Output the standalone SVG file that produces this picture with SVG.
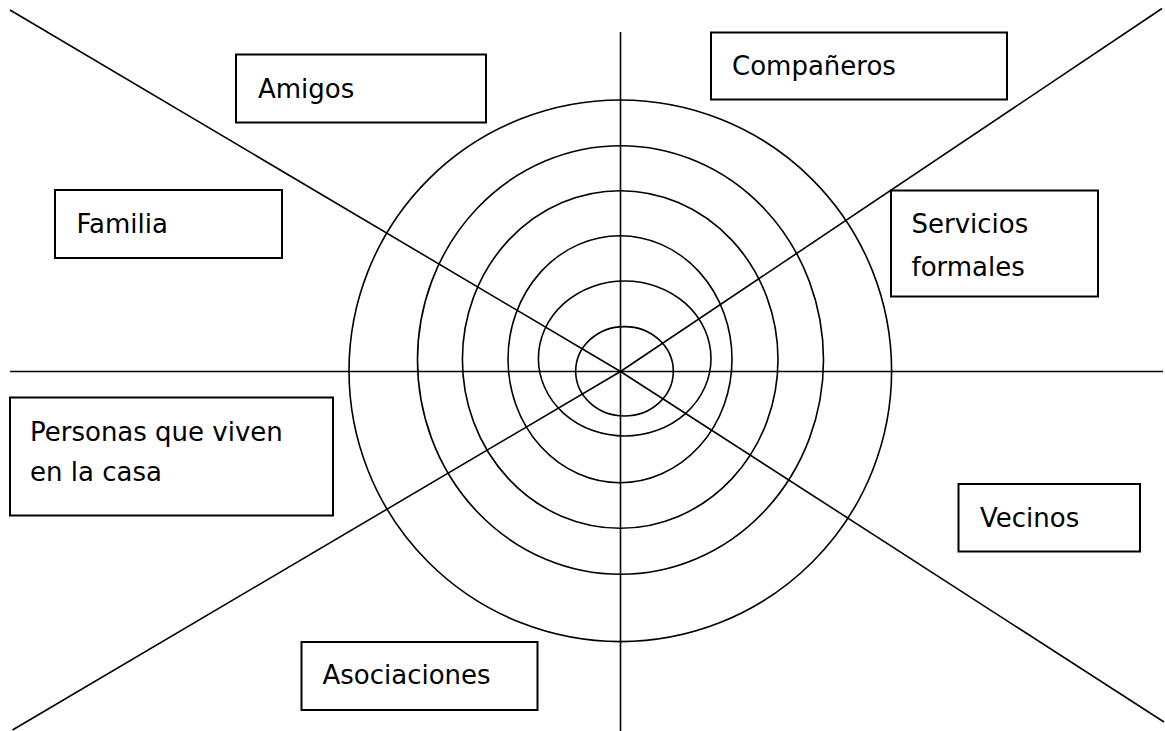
<svg xmlns="http://www.w3.org/2000/svg" width="1165" height="731" viewBox="0 0 1165 731">
  <style>
    .bg { fill: #ffffff; }
    .ln { stroke: #000000; stroke-width: 1.6; fill: none; }
    .ring { stroke: #000000; stroke-width: 1.6; fill: none; }
    .box { stroke: #000000; stroke-width: 2; fill: #ffffff; }
    .lbl { font-family: "DejaVu Sans", "Liberation Sans", sans-serif; font-size: 26px; fill: #000000; }
  </style>
  <rect class="bg" x="0" y="0" width="1165" height="731"/>
  <g id="rings">
    <ellipse class="ring" cx="620.3" cy="370.8" rx="271.3" ry="270.8"/>
    <ellipse class="ring" cx="620.5" cy="360" rx="203" ry="214.3"/>
    <ellipse class="ring" cx="620.2" cy="359.5" rx="157.8" ry="168.8"/>
    <ellipse class="ring" cx="620" cy="359.2" rx="112" ry="123.5"/>
    <ellipse class="ring" cx="624.7" cy="358.5" rx="86.3" ry="77.5"/>
    <ellipse class="ring" cx="624.5" cy="371.3" rx="48.8" ry="44.7"/>
  </g>
  <g id="connectors">
    <line class="ln" x1="620.5" y1="32" x2="620.5" y2="731"/>
    <line class="ln" x1="10" y1="371.5" x2="1163" y2="371.5"/>
    <line class="ln" x1="10" y1="10" x2="620.5" y2="371.5"/>
    <line class="ln" x1="620.5" y1="371.5" x2="1164" y2="722"/>
    <line class="ln" x1="620.5" y1="371.5" x2="1162" y2="8.5"/>
    <line class="ln" x1="620.5" y1="371.5" x2="12.5" y2="730"/>
  </g>
  <g id="amigos">
    <rect class="box" x="236" y="54.5" width="250" height="68"/>
    <text class="lbl" x="258" y="98">Amigos</text>
  </g>
  <g id="companeros">
    <rect class="box" x="711" y="32.5" width="296" height="67"/>
    <text class="lbl" x="732" y="75">Compañeros</text>
  </g>
  <g id="familia">
    <rect class="box" x="55" y="190" width="227" height="68"/>
    <text class="lbl" x="76.5" y="233">Familia</text>
  </g>
  <g id="servicios">
    <rect class="box" x="891" y="190.5" width="207" height="106"/>
    <text class="lbl" x="911.5" y="233">Servicios</text>
    <text class="lbl" x="911.5" y="275.5">formales</text>
  </g>
  <g id="personas">
    <rect class="box" x="10" y="397.5" width="323" height="118"/>
    <text class="lbl" x="30" y="441">Personas que viven</text>
    <text class="lbl" x="30" y="480.5">en la casa</text>
  </g>
  <g id="vecinos">
    <rect class="box" x="958.5" y="484" width="181.5" height="67.5"/>
    <text class="lbl" x="980" y="526.5">Vecinos</text>
  </g>
  <g id="asociaciones">
    <rect class="box" x="301.5" y="642" width="236" height="68"/>
    <text class="lbl" x="322.5" y="684">Asociaciones</text>
  </g>
</svg>
